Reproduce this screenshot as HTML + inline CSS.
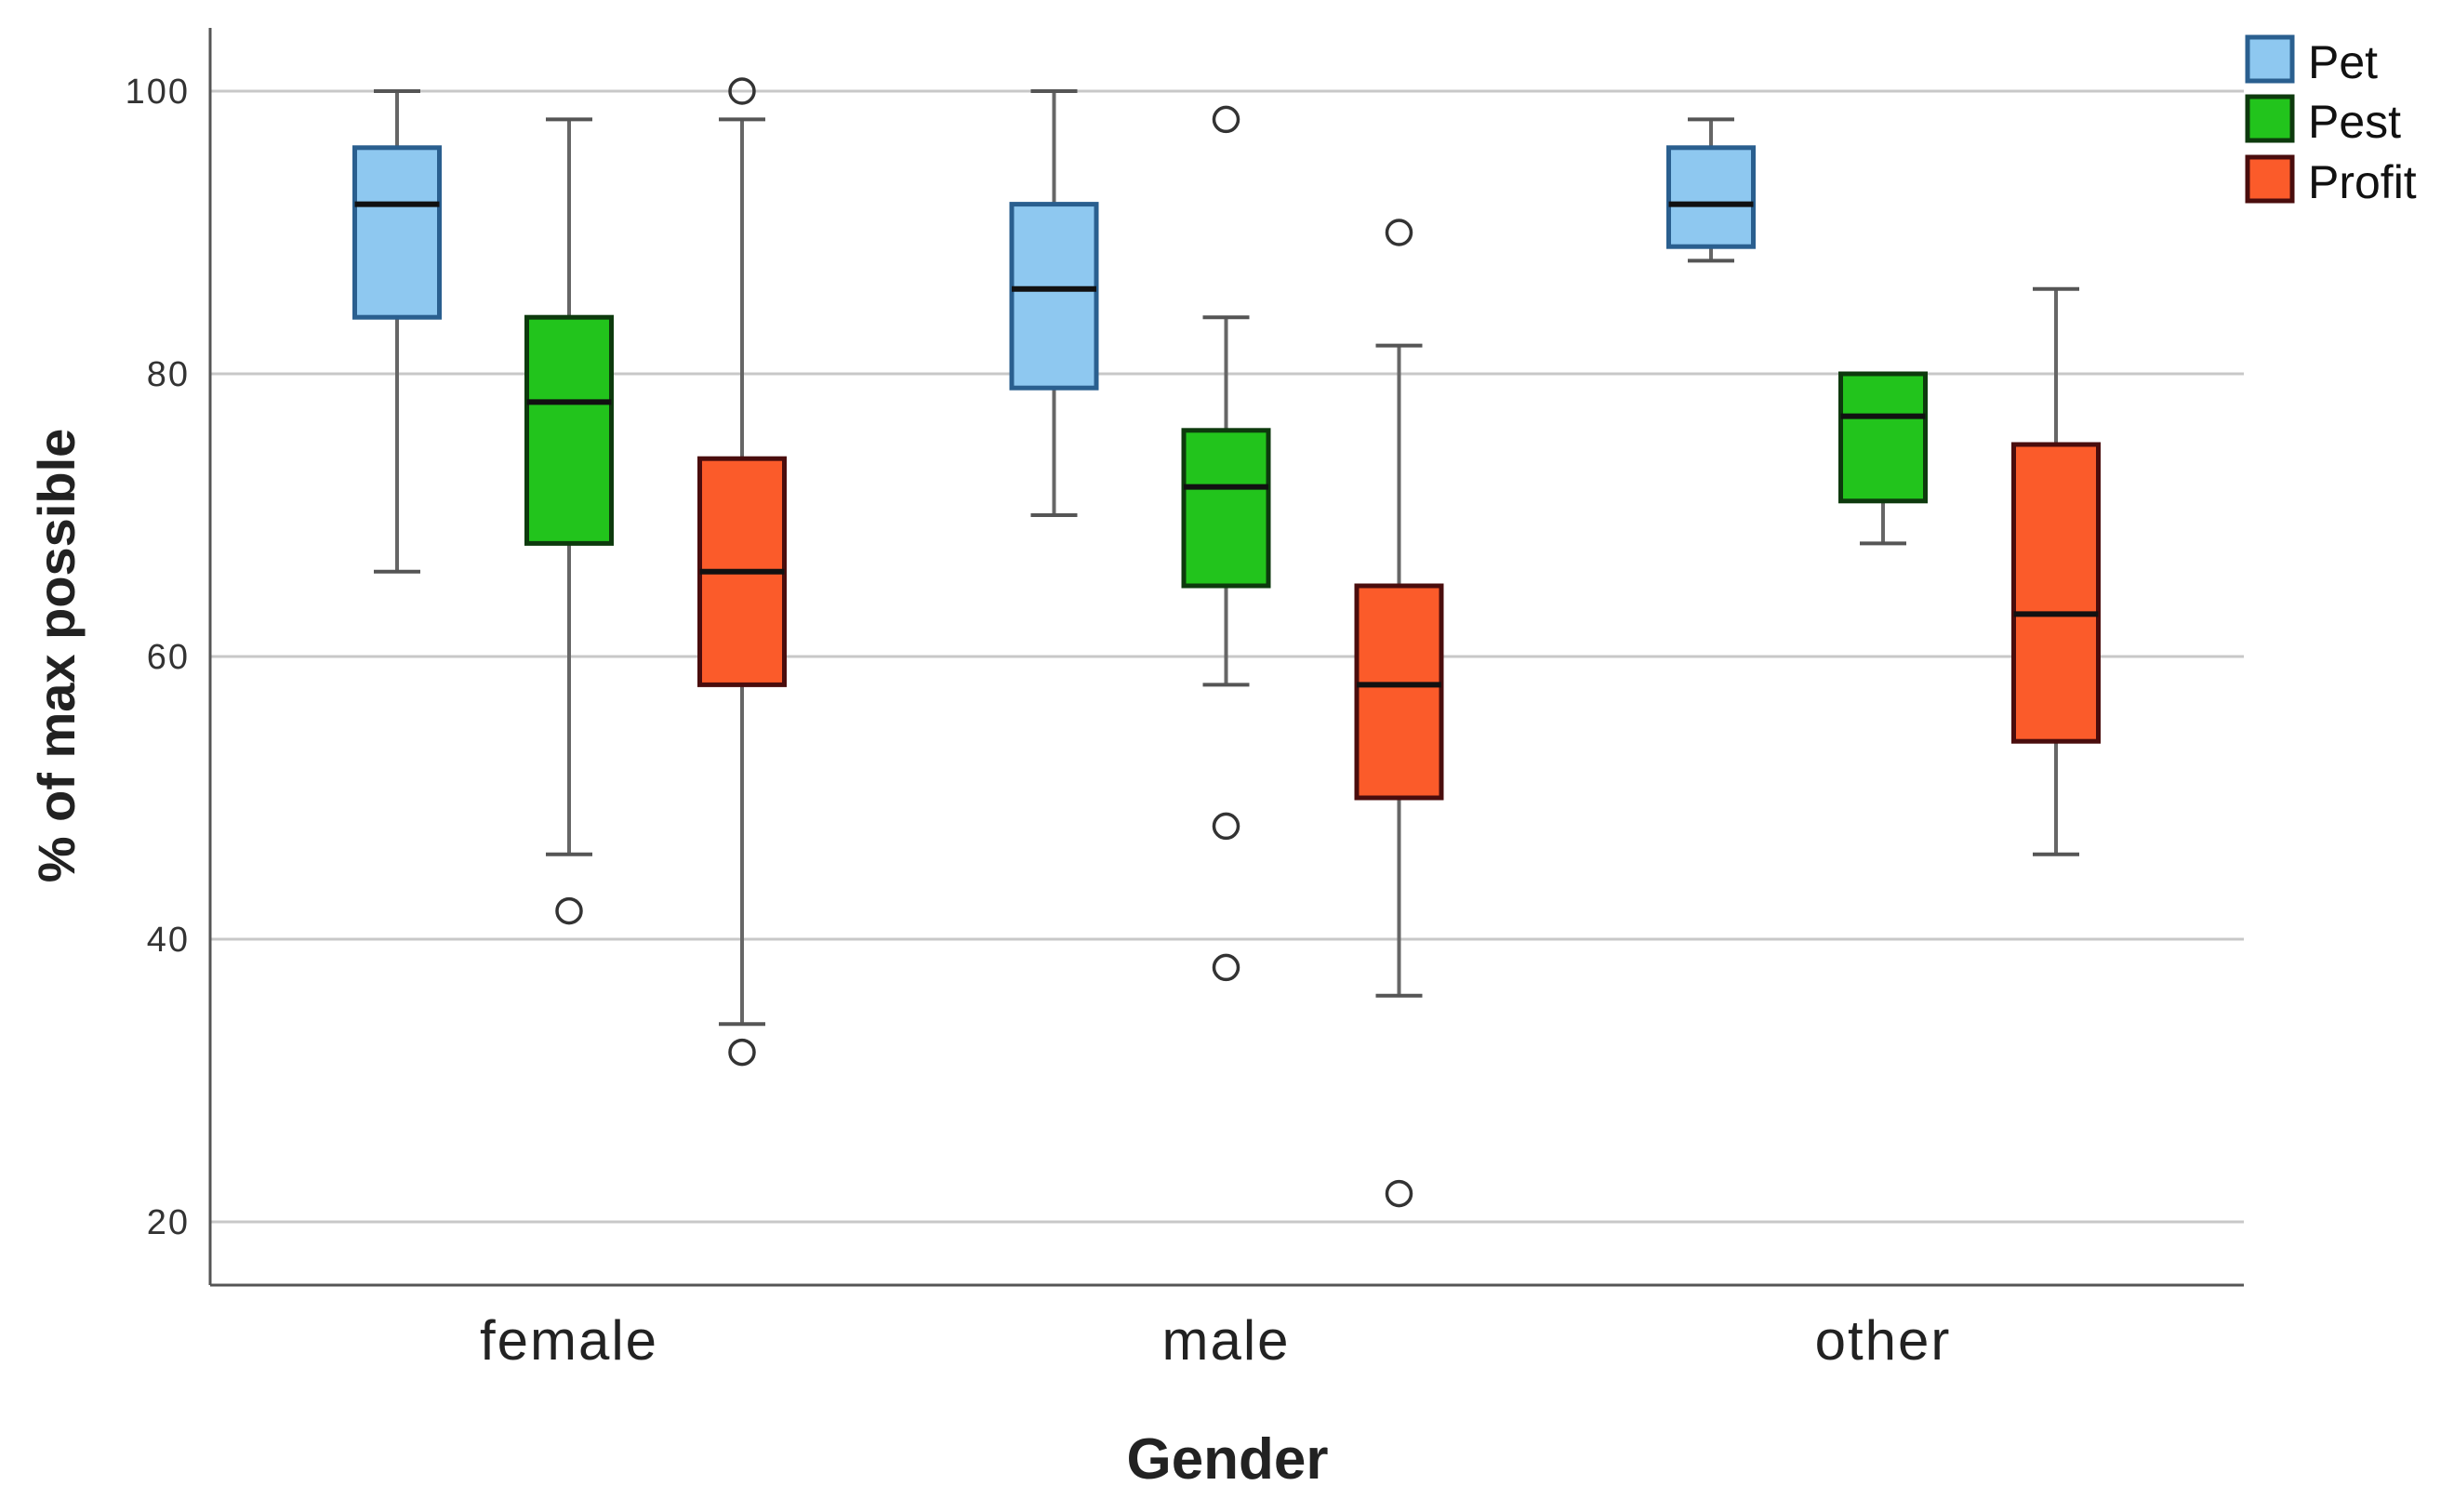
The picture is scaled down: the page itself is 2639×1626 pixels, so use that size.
<!DOCTYPE html>
<html><head><meta charset="utf-8"><style>
html,body{margin:0;padding:0;background:#fff;}
svg{display:block;font-family:"Liberation Sans",sans-serif;}
</style></head><body>
<svg id="chart" width="2639" height="1626" viewBox="0 0 2639 1626" xmlns="http://www.w3.org/2000/svg">
<g id="grid"></g>
<g id="yticks"></g>
<g id="boxes"></g>
<line x1="226" y1="30" x2="226" y2="1382" stroke="#555" stroke-width="3"/>
<line x1="226" y1="1382" x2="2413" y2="1382" stroke="#555" stroke-width="3"/>
<g id="xlabels"></g>
<text x="1320" y="1590" font-size="62" font-weight="bold" text-anchor="middle" fill="#222">Gender</text>
<text transform="translate(80,705) rotate(-90)" font-size="56" font-weight="bold" text-anchor="middle" fill="#222">% of max possible</text>
<g>
<rect x="2417" y="40" width="48" height="47" fill="#8ec8f0" stroke="#2a5f8f" stroke-width="5"/>
<text x="2482" y="84" font-size="50" fill="#111">Pet</text>
<rect x="2417" y="104" width="48" height="47" fill="#22c41c" stroke="#0d3a0d" stroke-width="5"/>
<text x="2482" y="148" font-size="50" fill="#111">Pest</text>
<rect x="2417" y="169" width="48" height="47" fill="#fb5b2a" stroke="#4a0d0d" stroke-width="5"/>
<text x="2482" y="213" font-size="50" fill="#111">Profit</text>
</g>
</svg>
<script>
const categories = ["female","male","other"];
const seriesNames = ["Pet","Pest","Profit"];
// each entry: [min, q1, median, q3, max]
const petStats = [[66,84,92,96,100],[70,79,86,92,100],[88,89,92,96,98]];
const pestStats = [[46,68,78,84,98],[58,65,72,76,84],[68,71,77,80,80]];
const profitStats = [[34,58,66,74,98],[36,50,58,65,82],[46,54,63,75,86]];
const petOutliers = [[],[],[]];
const pestOutliers = [[42],[98,48,38],[]];
const profitOutliers = [[100,32],[90,22],[]];
const yTicks = [20,40,60,80,100];

const NS="http://www.w3.org/2000/svg";
function y(v){return 1314 + (v-20)*(98-1314)/80;}
function xCat(i){return 612 + i*706.5;}
const offsets=[-185,0,186];
const fills=["#8ec8f0","#22c41c","#fb5b2a"];
const strokes=["#2a5f8f","#0d3a0d","#4a0d0d"];
const allStats=[petStats,pestStats,profitStats];
const allOut=[petOutliers,pestOutliers,profitOutliers];
function mk(tag,attrs,parent){const e=document.createElementNS(NS,tag);for(const k in attrs)e.setAttribute(k,attrs[k]);parent.appendChild(e);return e;}
const grid=document.getElementById('grid'),yt=document.getElementById('yticks'),bx=document.getElementById('boxes'),xl=document.getElementById('xlabels');
yTicks.forEach(t=>{
  const l=mk('line',{x1:226,x2:2413,y1:y(t),y2:y(t),stroke:'#c8c8c8','stroke-width':3},grid);
  
  
  const tx=mk('text',{x:204,y:y(t)+13,'font-size':38,'text-anchor':'end',fill:'#333','letter-spacing':2},yt);
  tx.textContent=t;
  
  
});
categories.forEach((c,i)=>{
  const tx=mk('text',{x:xCat(i),y:1462,'font-size':60,'text-anchor':'middle',fill:'#222','letter-spacing':2},xl);
  tx.textContent=c;
  
  
  allStats.forEach((st,s)=>{
    const [mn,q1,md,q3,mx]=st[i];
    const cx=xCat(i)+offsets[s], w=91, cap=50;
    const g=mk('g',{},bx);
    
    
    mk('line',{x1:cx,x2:cx,y1:y(mx),y2:y(mn),stroke:'#666','stroke-width':4},g);
    mk('line',{x1:cx-cap/2,x2:cx+cap/2,y1:y(mx),y2:y(mx),stroke:'#555','stroke-width':4},g);
    mk('line',{x1:cx-cap/2,x2:cx+cap/2,y1:y(mn),y2:y(mn),stroke:'#555','stroke-width':4},g);
    mk('rect',{x:cx-w/2,y:y(q3),width:w,height:y(q1)-y(q3),fill:fills[s],stroke:strokes[s],'stroke-width':5},g);
    mk('line',{x1:cx-w/2,x2:cx+w/2,y1:y(md),y2:y(md),stroke:'#111','stroke-width':6},g);
    allOut[s][i].forEach(o=>{
      const ci=mk('circle',{cx:cx,cy:y(o),r:13,fill:'none',stroke:'#333','stroke-width':3.5},g);
      
      
    });
  });
});
</script>
</body></html>
